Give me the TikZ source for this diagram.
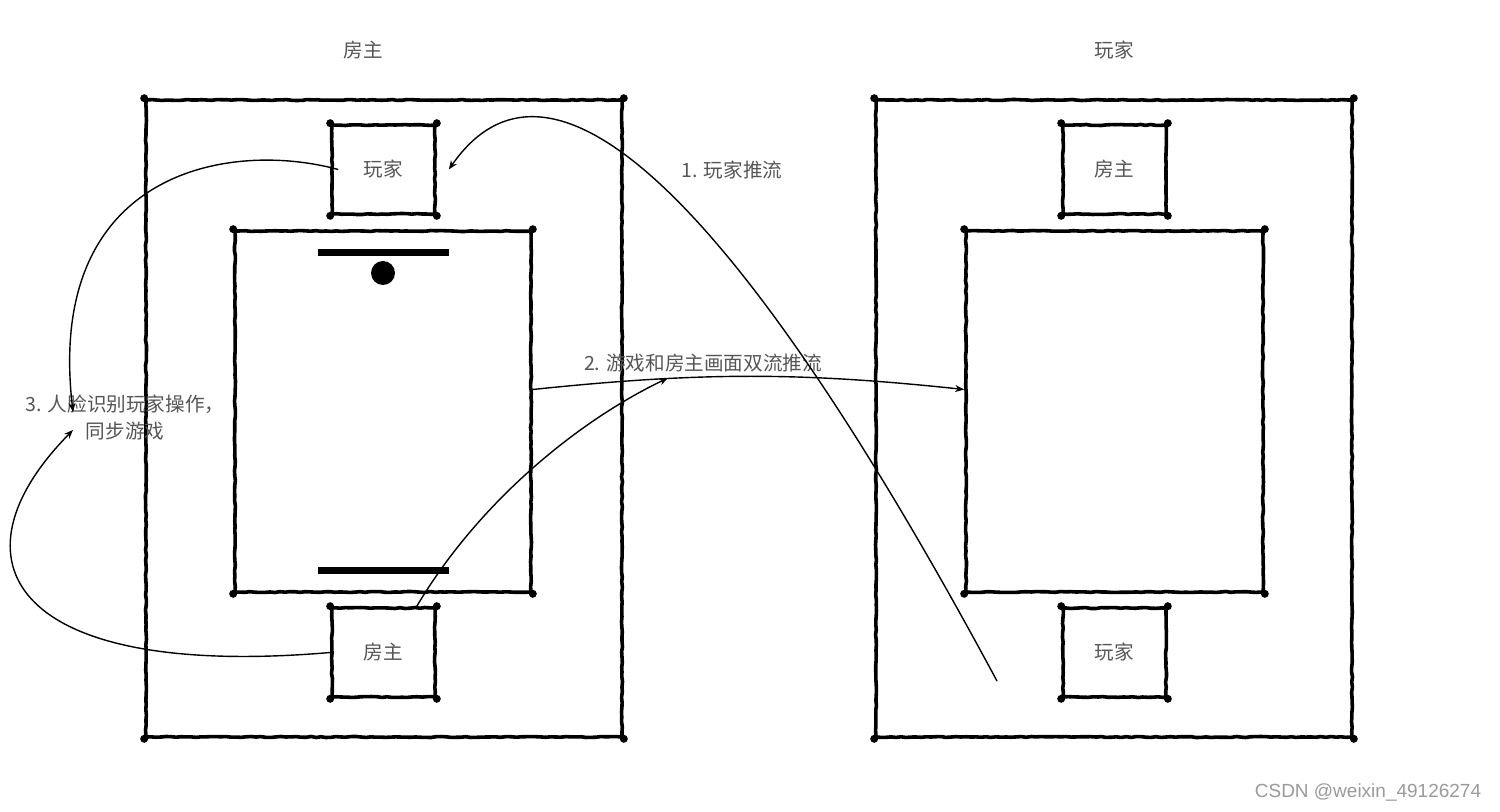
\documentclass[tikz,border=0pt]{standalone}
\usepackage{fontspec}
\setmainfont{Noto Sans CJK SC}
\newfontfamily\wmfont{Liberation Sans}
\usepackage{tikz}
\usetikzlibrary{arrows.meta,positioning,decorations.pathmorphing}

\definecolor{labelgray}{HTML}{555555}
\definecolor{markgray}{HTML}{9A9A9A}

\tikzset{
    sketchbox/.style={draw, line width=1.8pt, line join=round,
        decoration={random steps, segment length=2.5pt, amplitude=0.25pt}, decorate},
    lbl/.style={text=labelgray, font=\fontsize{9.8pt}{13.5pt}\selectfont},
    flow/.style={->, line width=0.7pt},
}

\begin{document}
\begin{tikzpicture}[x=0.5pt, y=-0.5pt, >={Stealth[length=4.5pt,width=3.5pt]}]
    \pgfmathsetseed{7}
    \useasboundingbox (0,0) rectangle (1500,812);

    % Titles
    \node[lbl] (ltitle) at (363,50) {房主};
    \node[lbl] (rtitle) at (1114,50) {玩家};

    % Host side
    \node[sketchbox, minimum width=238pt, minimum height=318.5pt] (lframe) at (384,418.5) {};
    \node[sketchbox, minimum width=148pt, minimum height=180.5pt] (lscreen) at (383,411.5) {};
    \node[sketchbox, lbl, minimum width=51.5pt, minimum height=44.5pt] (pbox) at (383.5,169.5) {玩家};
    \node[sketchbox, lbl, minimum width=51.5pt, minimum height=44.5pt] (hbox) at (383.5,652.5) {房主};

    % paddles and ball
    \fill (318,249) rectangle (449,256);
    \fill (383,273) circle[radius=6pt];
    \fill (318,567) rectangle (449,574);

    % Player side
    \node[sketchbox, minimum width=238pt, minimum height=318.5pt] (rframe) at (1114,418.5) {};
    \node[sketchbox, minimum width=148.5pt, minimum height=180.5pt] (rscreen) at (1114.5,411.5) {};
    \node[sketchbox, lbl, minimum width=51.5pt, minimum height=44.5pt] (rhbox) at (1114.5,169.5) {房主};
    \node[sketchbox, lbl, minimum width=51.5pt, minimum height=44.5pt] (rpbox) at (1114.5,652.5) {玩家};

    % corner dots
    \foreach \n in {lframe,lscreen,pbox,hbox,rframe,rscreen,rhbox,rpbox} {
        \foreach \c in {north west,north east,south west,south east}
            \fill (\n.\c) circle[radius=2pt];
    }

    % Labels
    \node[lbl] (step1) at (732,170) {1. 玩家推流};
    \node[lbl] (step2) at (703,363) {2. 游戏和房主画面双流推流};
    \node[lbl, align=center] (step3) at (125,418) {3. 人脸识别玩家操作，\\同步游戏};

    % free ends
    \coordinate (pushstart) at (997,681);
    \coordinate (mergept) at (668,378);
    \coordinate (facein) at (73,412);
    \coordinate (faceout) at (73,430);

    % 1. player push
    \draw[flow] (pushstart) .. controls (760,240) and (560,10) .. ([xshift=6pt]pbox.east);
    % 2. dual stream
    \draw[flow] ([yshift=11pt]lscreen.east) .. controls (700,372) and (800,372) .. ([yshift=11pt]rscreen.west);
    \draw[flow] ([xshift=-10pt]hbox.north east) .. controls (480,500) and (580,420) .. (mergept);
    % 3. face recognition loop
    \draw[flow] ([xshift=4pt]pbox.west) .. controls (230,140) and (45,170) .. (facein);
    \draw[flow] (hbox.west) .. controls (10,680) and (-55,560) .. (faceout);

    % watermark
    \node[text=markgray, font=\wmfont\fontsize{9.5pt}{11pt}\selectfont] (mark) at (1368,793) {CSDN @weixin\_49126274};
\end{tikzpicture}
\end{document}
